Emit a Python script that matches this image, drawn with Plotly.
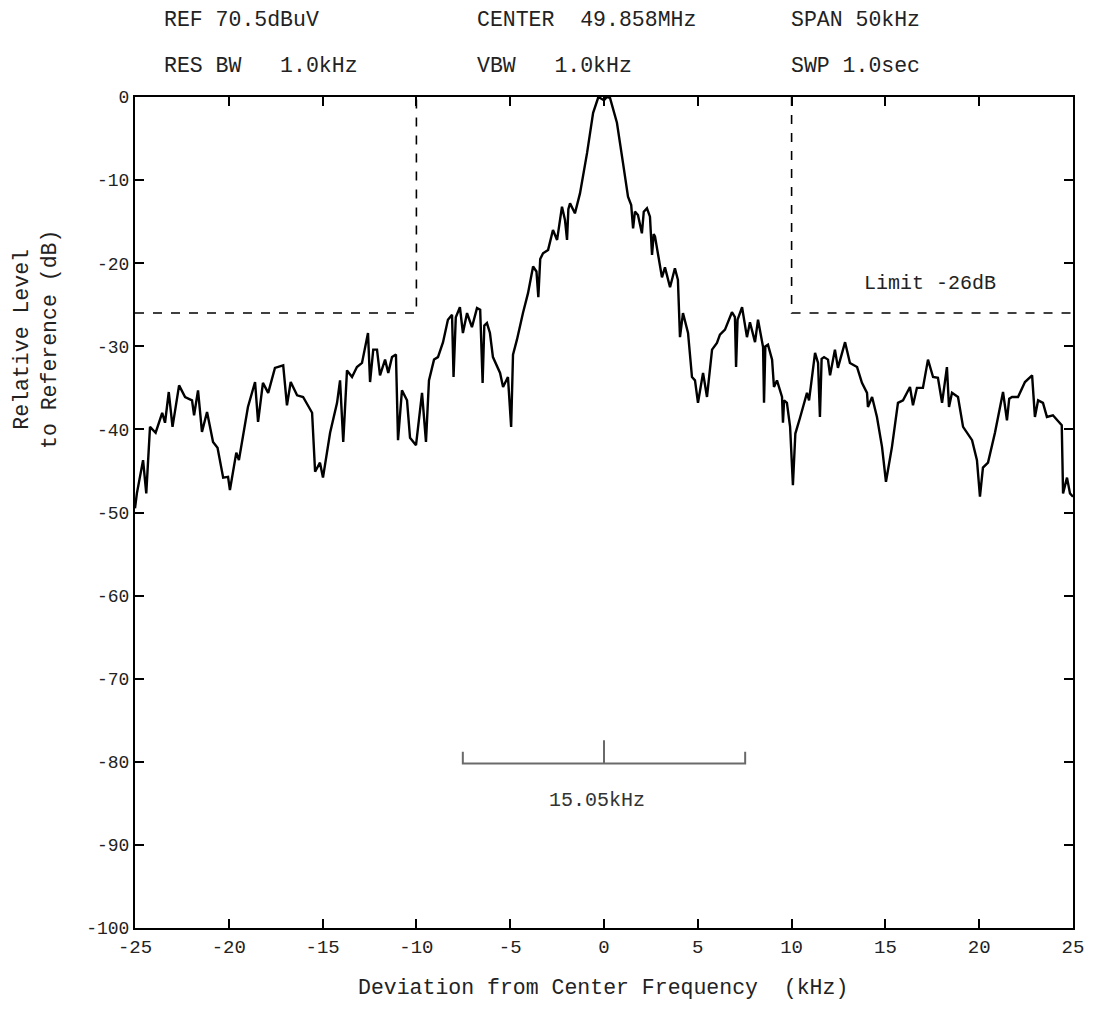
import plotly.graph_objects as go

# ---- data ----
freq_khz = [
    -25.0, -24.9, -24.57, -24.4, -24.2, -23.9, -23.55, -23.4, -23.2, -23.0,
    -22.65, -22.33, -21.96, -21.85, -21.64, -21.43, -21.16, -20.84, -20.6, -20.3,
    -20.04, -19.94, -19.6, -19.46, -18.98, -18.6, -18.44, -18.18, -17.9, -17.54,
    -17.1, -16.9, -16.7, -16.36, -16.04, -15.56, -15.4, -15.14, -14.98, -14.6,
    -14.23, -14.07, -13.9, -13.7, -13.43, -13.17, -12.9, -12.58, -12.47, -12.3,
    -12.1, -11.94, -11.67, -11.5, -11.3, -11.09, -10.98, -10.77, -10.5, -10.34,
    -10.02, -9.7, -9.49, -9.33, -9.06, -8.85, -8.58, -8.32, -8.1, -8.02,
    -7.9, -7.68, -7.52, -7.3, -7.04, -6.77, -6.6, -6.47, -6.38, -6.24,
    -6.08, -5.92, -5.54, -5.38, -5.12, -4.95, -4.85, -4.64, -4.32, -4.05,
    -3.78, -3.6, -3.5, -3.4, -3.25, -2.98, -2.72, -2.5, -2.24, -2.08,
    -1.97, -1.9, -1.81, -1.55, -1.28, -0.9, -0.58, -0.3, 0.0, 0.15,
    0.32, 0.69, 1.01, 1.28, 1.45, 1.55, 1.65, 1.81, 2.02, 2.12,
    2.29, 2.45, 2.56, 2.65, 2.72, 2.98, 3.09, 3.25, 3.52, 3.78,
    3.94, 4.05, 4.21, 4.48, 4.69, 4.85, 5.01, 5.28, 5.49, 5.76,
    6.02, 6.18, 6.45, 6.82, 6.98, 7.04, 7.12, 7.36, 7.62, 7.78,
    8.05, 8.21, 8.48, 8.53, 8.6, 8.74, 8.96, 9.06, 9.22, 9.49,
    9.54, 9.6, 9.75, 9.92, 10.07, 10.2, 10.29, 10.45, 10.82, 10.93,
    11.25, 11.41, 11.51, 11.6, 11.73, 11.94, 12.05, 12.31, 12.47, 12.85,
    13.11, 13.49, 13.75, 14.02, 14.07, 14.29, 14.55, 14.82, 15.03, 15.35,
    15.67, 15.94, 16.31, 16.47, 16.68, 17.0, 17.27, 17.54, 17.8, 18.02,
    18.28, 18.39, 18.55, 18.87, 19.14, 19.62, 19.88, 20.04, 20.2, 20.47,
    20.84, 21.27, 21.48, 21.6, 21.75, 22.07, 22.44, 22.82, 22.97, 23.14,
    23.4, 23.61, 23.93, 24.15, 24.4, 24.47, 24.68, 24.84, 25.0,
]
level_db = [
    -49.5, -47.7, -43.7, -47.7, -39.7, -40.4, -38.0, -39.2, -35.5, -39.7,
    -34.7, -36.1, -36.5, -38.3, -35.3, -40.3, -37.9, -41.5, -42.2, -45.8,
    -45.7, -47.3, -42.8, -43.7, -37.3, -34.3, -39.1, -34.4, -35.6, -32.6,
    -32.3, -37.1, -34.3, -35.9, -36.1, -38.0, -45.1, -44.0, -45.8, -40.4,
    -36.8, -34.1, -41.5, -32.9, -33.7, -32.5, -32.0, -28.4, -34.3, -30.4,
    -30.4, -33.5, -31.6, -33.2, -31.3, -31.0, -41.3, -35.3, -36.5, -41.0,
    -41.9, -35.6, -41.5, -34.1, -31.6, -31.3, -29.5, -26.8, -26.2, -33.7,
    -26.5, -25.3, -28.4, -26.0, -27.7, -25.4, -25.6, -34.4, -27.5, -27.2,
    -28.4, -31.3, -33.2, -34.9, -33.7, -39.7, -31.0, -29.2, -26.0, -23.6,
    -20.4, -21.0, -24.1, -19.5, -18.8, -18.4, -16.0, -17.2, -13.2, -14.8,
    -17.2, -13.5, -12.8, -14.0, -11.6, -6.7, -1.9, 0.0, -0.4, 0.0,
    -0.1, -3.1, -7.9, -12.0, -13.0, -15.8, -13.8, -14.2, -16.4, -13.8,
    -13.4, -14.4, -19.0, -16.5, -16.8, -20.2, -21.7, -20.5, -22.9, -20.6,
    -22.0, -28.9, -26.0, -28.4, -33.7, -34.1, -36.8, -33.2, -36.1, -30.4,
    -29.6, -28.6, -28.0, -25.9, -26.5, -32.5, -26.8, -25.3, -28.9, -27.1,
    -29.5, -26.8, -30.1, -36.8, -30.0, -29.8, -31.6, -34.9, -34.1, -36.1,
    -39.2, -36.5, -36.8, -39.7, -46.7, -40.5, -39.7, -38.6, -35.6, -36.5,
    -30.8, -32.0, -38.5, -31.5, -31.3, -31.6, -33.5, -30.4, -32.6, -29.5,
    -32.0, -32.5, -34.4, -35.6, -37.3, -36.1, -38.5, -42.1, -46.3, -42.1,
    -36.8, -36.5, -34.9, -37.1, -35.0, -35.0, -31.6, -33.7, -33.8, -36.8,
    -32.5, -37.3, -35.6, -36.1, -39.7, -41.3, -43.7, -48.1, -44.6, -44.0,
    -40.4, -35.5, -38.9, -36.3, -36.1, -36.1, -34.3, -33.5, -38.5, -36.5,
    -36.8, -38.5, -38.3, -38.9, -39.5, -47.7, -45.8, -47.7, -48.1,
]

limit_db = -26
limit_edge_khz = 10
span_khz = 15.05
header_left = ["REF 70.5dBuV", "RES BW   1.0kHz"]
header_mid = ["CENTER  49.858MHz", "VBW   1.0kHz"]
header_right = ["SPAN 50kHz", "SWP 1.0sec"]
x_ticks = [-25, -20, -15, -10, -5, 0, 5, 10, 15, 20, 25]
y_ticks = [0, -10, -20, -30, -40, -50, -60, -70, -80, -90, -100]

FONT = "Liberation Mono"

fig = go.Figure()

# limit mask (dashed)
fig.add_trace(go.Scatter(
    x=[-25, -limit_edge_khz, -limit_edge_khz], y=[limit_db, limit_db, 0],
    mode="lines", line=dict(color="black", width=1.6, dash="dash"),
    hoverinfo="skip", showlegend=False))
fig.add_trace(go.Scatter(
    x=[limit_edge_khz, limit_edge_khz, 25], y=[0, limit_db, limit_db],
    mode="lines", line=dict(color="black", width=1.6, dash="dash"),
    hoverinfo="skip", showlegend=False))

# spectrum trace
fig.add_trace(go.Scatter(
    x=freq_khz, y=level_db, mode="lines",
    line=dict(color="black", width=2.4),
    showlegend=False))

# bandwidth bracket
half = span_khz / 2
fig.add_trace(go.Scatter(
    x=[-half, -half, half, half, None, 0, 0],
    y=[-78.8, -80.2, -80.2, -78.8, None, -80.2, -77.4],
    mode="lines", line=dict(color="#6a6a6a", width=2),
    hoverinfo="skip", showlegend=False))

fig.add_annotation(x=-0.4, y=-84.6, text="15.05kHz", showarrow=False,
                   font=dict(family=FONT, size=20, color="#333"))
fig.add_annotation(x=17.4, y=-22.4, text="Limit -26dB", showarrow=False,
                   font=dict(family=FONT, size=20, color="#222"))

def px_x(px):
    return (px - 135) / 938

def px_y(py):
    return (928 - py) / 831

for col_px, lines in [(162, header_left), (475, header_mid), (789, header_right)]:
    for row_py, t in zip([20, 66], lines):
        fig.add_annotation(xref="paper", yref="paper", x=px_x(col_px), y=px_y(row_py),
                           xanchor="left", yanchor="middle", text=t, showarrow=False,
                           font=dict(family=FONT, size=21.5, color="#222"))

fig.add_annotation(xref="paper", yref="paper", x=px_x(603), y=px_y(988),
                   text="Deviation from Center Frequency  (kHz)", showarrow=False,
                   xanchor="center", yanchor="middle",
                   font=dict(family=FONT, size=21.5, color="#222"))
fig.add_annotation(xref="paper", yref="paper", x=px_x(36), y=px_y(340),
                   text="Relative Level<br>to Reference (dB)", showarrow=False,
                   textangle=-90, xanchor="center", yanchor="middle",
                   font=dict(family=FONT, size=21.5, color="#222"))

axis_common = dict(showgrid=False, zeroline=False, showline=True, linecolor="black",
                   linewidth=2, mirror="ticks", ticks="inside", ticklen=9,
                   tickwidth=1.6, tickcolor="black")

fig.update_xaxes(range=[-25, 25], tickvals=x_ticks, ticktext=[str(v) for v in x_ticks],
                 tickfont=dict(family=FONT, size=19, color="#222"), **axis_common)
fig.update_yaxes(range=[-100, 0], tickvals=y_ticks, ticktext=[str(v) for v in y_ticks],
                 tickfont=dict(family=FONT, size=18, color="#222"), **axis_common)

# the page body adds an 8px offset; margins compensate for it
fig.update_layout(width=1094, height=1012,
                  margin=dict(l=127, r=29, t=89, b=92),
                  paper_bgcolor="white", plot_bgcolor="white",
                  showlegend=False)

fig.write_html("out.html")
